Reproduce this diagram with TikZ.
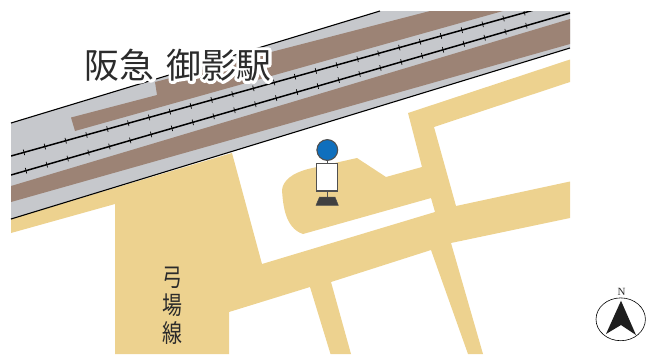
\documentclass[tikz,border=0pt]{standalone}
\usepackage{fontspec}
\newfontfamily\cjk{Noto Sans CJK JP}
\setmainfont{Liberation Serif}
\definecolor{road}{HTML}{EDD28F}
\definecolor{bandgray}{HTML}{C6C8CC}
\definecolor{platform}{HTML}{9C8375}
\definecolor{poleblue}{HTML}{0F6FBD}
\definecolor{polegray}{HTML}{505050}
\definecolor{ink}{HTML}{2B2B2B}
\tikzset{
  railline/.style={black,line width=1.5pt},
  railtick/.style={black,line width=0.7pt},
  edgeline/.style={black,line width=1.1pt},
  poleline/.style={polegray,line width=1.1pt}
}
\begin{document}
\begin{tikzpicture}[x=1bp,y=-1bp]
\useasboundingbox (0,0) rectangle (659,354);
% roads
\fill[road] (11,219) -- (11,233) -- (115,204) -- (115,354) -- (229,354) -- (229,312)
  -- (310,287) -- (330.5,354) -- (351,354) -- (331,282) -- (431,250) -- (468,354)
  -- (483,354) -- (451,243) -- (570,218) -- (570,181.5) -- (456,206) -- (434,127)
  -- (570,82) -- (570,59.5) -- (408,113) -- (422,167) -- (386,177) -- (357,158)
  -- (308,169) .. controls (293,173) and (283,180) .. (282,190)
  .. controls (283,205) and (285,228) .. (303,234)
  -- (431,198) -- (435,212) -- (262,264) -- (232,153) -- (11,219) -- cycle;
% railway band
\fill[bandgray] (11,123) -- (380,11) -- (570,11) -- (570,48) -- (11,219) -- cycle;
\fill[platform] (11,186) -- (570,19) -- (570,44) -- (11,202) -- cycle;
\fill[platform] (71,117.5) -- (157,95) -- (155,82) -- (430,11) -- (503,11) -- (75,131) -- cycle;
\draw[edgeline] (11,123) -- (380,11);
\draw[edgeline] (11,219) -- (570,48);
% tracks
\begin{scope}
\clip (11,11) rectangle (570,354);
\draw[railline] (11,156) -- (534,10);
\draw[railline] (11,175) -- (570,13);
\foreach \k in {0,...,24} {
  \pgfmathsetmacro{\xa}{24+20.85*\k}
  \pgfmathsetmacro{\ya}{156-0.2792*(\xa-11)}
  \draw[railtick] (\xa-0.7,\ya-2.8) -- (\xa+0.7,\ya+2.8);
  \pgfmathsetmacro{\xb}{26+20.85*\k}
  \pgfmathsetmacro{\yb}{175-0.2898*(\xb-11)}
  \draw[railtick] (\xb-0.7,\yb-2.8) -- (\xb+0.7,\yb+2.8);
}
\end{scope}
% station name
\node[inner sep=0pt,text=ink] (station) at (178,65)
  {\fontsize{35}{38}\selectfont\cjk
   \rlap{\color{white}\special{pdf:code 1 1 1 RG 2 Tr 6 w 1 j}阪急\hspace{12bp}御影駅\special{pdf:code 0 Tr 0.4 w 0 j}}阪急\hspace{12bp}御影駅};
% street name
\node[inner sep=0pt,text=ink,align=center,xscale=0.8,transform shape,font={\cjk\fontsize{25}{28.2}\selectfont}] (street) at (172.7,306)
  {弓\\場\\線};
% bus stop
\draw[poleline] (327.3,160) -- (327.3,197);
\filldraw[fill=poleblue,draw=polegray,line width=1.1pt] (327.3,150) circle (10.4);
\filldraw[fill=white,draw=polegray,line width=1.1pt] (316.9,163.5) rectangle (337.7,191);
\filldraw[fill=ink!90,draw=polegray,line width=0.5pt] (319.5,197) -- (335,197) -- (338.3,205.3) -- (316,205.3) -- cycle;
% north arrow
\node[inner sep=0pt,text=ink] (north) at (621.5,291.5) {\fontsize{11}{12}\selectfont N};
\draw[black,line width=0.6pt] (620.7,319.3) ellipse (24.7 and 21.4);
\fill[ink!70!black] (621,300.7) -- (636,335) -- (621,325) -- (606,334) -- cycle;
\end{tikzpicture}
\end{document}
